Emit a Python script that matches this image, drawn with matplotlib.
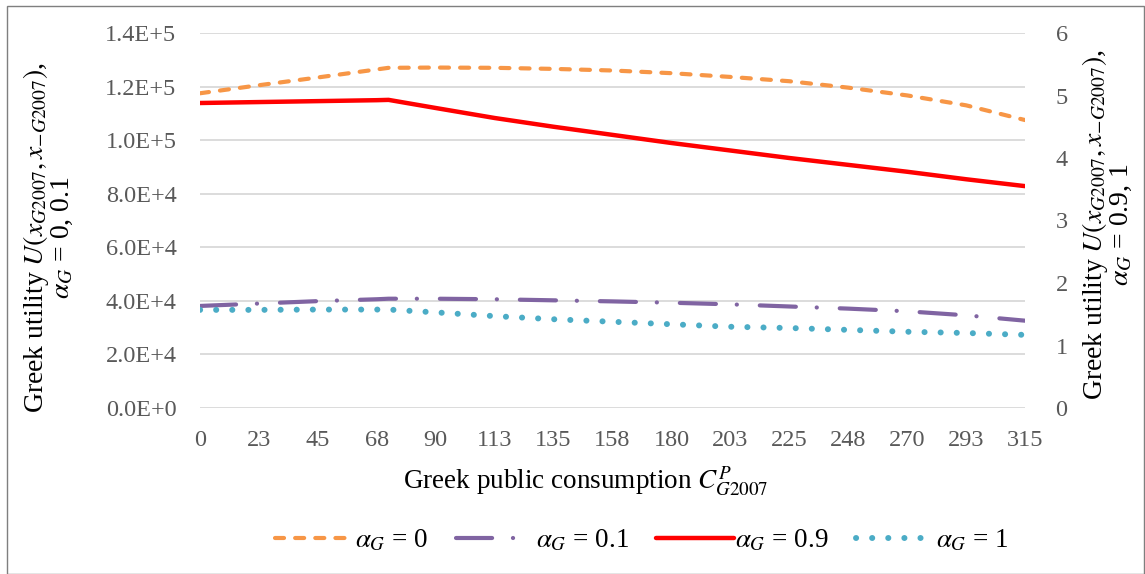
import matplotlib
matplotlib.use("Agg")
import matplotlib.pyplot as plt
from matplotlib.ticker import FuncFormatter, MultipleLocator
from matplotlib.patches import Rectangle
import math

plt.rcParams["font.family"] = ["Liberation Serif", "DejaVu Serif"]
plt.rcParams["mathtext.fontset"] = "stix"
plt.rcParams["lines.scale_dashes"] = False

# Greek public consumption (x) and utilities for each alpha_G
consumption = [0, 22.5, 45, 67.5, 72, 90, 112.5, 135, 157.5, 180, 202.5, 225, 247.5, 270, 292.5, 315]
tick_vals = [0, 22.5, 45, 67.5, 90, 112.5, 135, 157.5, 180, 202.5, 225, 247.5, 270, 292.5, 315]
tick_labels = ["0", "23", "45", "68", "90", "113", "135", "158", "180", "203", "225", "248", "270", "293", "315"]

# left axis (alpha_G = 0, 0.1)
u_a0 = [117500, 120500, 123400, 126400, 127000, 127100, 127000, 126600, 126000, 125000,
        123600, 122000, 119600, 116700, 113000, 107500]
u_a01 = [38100, 39000, 39900, 40600, 40800, 40800, 40600, 40200, 39800, 39300,
         38700, 37900, 37100, 36100, 34600, 32600]
# right axis (alpha_G = 0.9, 1)
u_a09 = [4.88, 4.895, 4.91, 4.925, 4.93, 4.80, 4.64, 4.50, 4.37, 4.24,
         4.12, 4.00, 3.89, 3.78, 3.66, 3.55]
u_a1 = [1.57, 1.57, 1.575, 1.575, 1.575, 1.53, 1.47, 1.42, 1.38, 1.34,
        1.30, 1.28, 1.25, 1.22, 1.20, 1.17]

W, H = 1145, 574
fig = plt.figure(figsize=(W / 100, H / 100), dpi=100)
ax = fig.add_axes([200 / W, 1 - 408 / H, 825 / W, 375 / H])
ax2 = ax.twinx()

tick_color = "#595959"
lw = 3.0

l0, = ax.plot(consumption, u_a0, color="#F79646", lw=lw, dashes=(6.5, 8),
              dash_capstyle="round")
l01, = ax.plot(consumption, u_a01, color="#8064A2", lw=lw, dashes=(26, 15, 0.1, 16.5),
               dash_capstyle="round")
l09, = ax2.plot(consumption, u_a09, color="#FF0000", lw=3.2, solid_capstyle="round")
l1, = ax2.plot(consumption, u_a1, color="#4BACC6", lw=4.3, dashes=(0.1, 11.5),
               dash_capstyle="round")

ax.set_xlim(0, 315)
ax.set_ylim(0, 140000)
ax2.set_ylim(0, 6)
ax.yaxis.set_major_locator(MultipleLocator(20000))
ax2.yaxis.set_major_locator(MultipleLocator(1))


def sci(v, pos):
    if v == 0:
        return "0.0E+0"
    e = int(math.floor(math.log10(abs(v))))
    return f"{v / 10 ** e:.1f}E+{e}"


ax.yaxis.set_major_formatter(FuncFormatter(sci))
ax.set_xticks(tick_vals)
ax.set_xticklabels(tick_labels)

ax.grid(axis="y", color="#d9d9d9", lw=1.3)
ax.set_axisbelow(True)
for a in (ax, ax2):
    for s in a.spines.values():
        s.set_visible(False)
ax.tick_params(axis="y", length=0, pad=17, labelsize=17.5, labelcolor=tick_color)
ax.tick_params(axis="x", length=0, pad=16, labelsize=17.5, labelcolor=tick_color)
ax2.tick_params(axis="y", length=0, pad=22, labelsize=17.5, labelcolor=tick_color)

fig.text(586 / W, 1 - 482 / H, r"Greek public consumption $C^{P}_{G2007}$",
         ha="center", va="center", fontsize=19.5)
fig.text(48 / W, 1 - 238 / H,
         "Greek utility $U(x_{G2007}, x_{-G2007})$,\n" + r"$\alpha_G$ = 0, 0.1",
         rotation=90, ha="center", va="center", multialignment="center",
         fontsize=20, linespacing=0.95)
fig.text(1107 / W, 1 - 225 / H,
         "Greek utility $U(x_{G2007}, x_{-G2007})$,\n" + r"$\alpha_G$ = 0.9, 1",
         rotation=90, ha="center", va="center", multialignment="center",
         fontsize=20, linespacing=0.95)

fig.legend([l0, l01, l09, l1],
           [r"$\alpha_G$ = 0", r"$\alpha_G$ = 0.1", r"$\alpha_G$ = 0.9", r"$\alpha_G$ = 1"],
           loc="center", bbox_to_anchor=(642 / W, 1 - 541 / H), ncol=4,
           frameon=False, fontsize=19.5, handlelength=2.9, handletextpad=0.05,
           columnspacing=1.0)

fig.patches.append(Rectangle((7 / W, 0), (W - 8) / W, 1 - 6 / H,
                             transform=fig.transFigure, fill=False,
                             edgecolor="#7f7f7f", lw=1))

fig.savefig("out.png", dpi=100)
